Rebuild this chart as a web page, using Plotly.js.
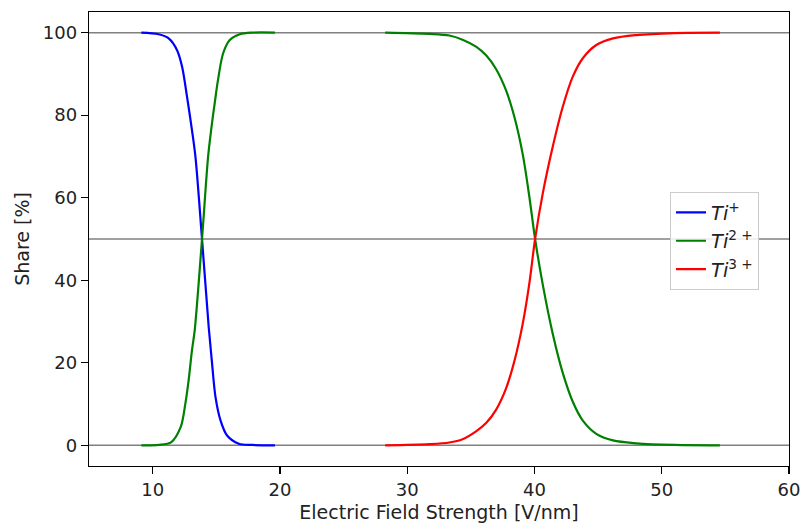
<!DOCTYPE html>
<html>
<head>
<meta charset="utf-8">
<script src="https://cdn.plot.ly/plotly-3.0.1.min.js"></script>
<style>html,body{margin:0;padding:0;background:#fff;}#chart{width:801px;height:523px;}</style>
</head>
<body>
<div id="chart"></div>
<script>
// Ti+ share
const tiPlusX = [9.11, 10.47, 11.26, 11.91, 12.31, 12.70, 13.09, 13.36, 13.88, 14.41, 14.67, 14.94, 15.33, 15.85, 16.77, 17.82, 19.61];
const tiPlusY = [100, 99.6, 98.6, 95.8, 91.8, 84.5, 76.4, 70, 50, 28.5, 19.8, 11.7, 6.1, 2.4, 0.4, 0.1, 0];
// Ti2+ share (two segments separated by a gap)
const ti2PlusX = [9.11, 10.47, 11.47, 12.2, 12.57, 12.83, 13.09, 13.31, 13.88, 14.36, 14.62, 14.88, 15.14, 15.54, 16.06, 16.85, 17.82, 19.61,
                  null,
                  28.27, 31.73, 33.31, 34.35, 35.41, 36.2, 36.98, 37.77, 38.43, 39.08, 39.61, 40.05, 40.65, 41.44, 42.23, 43.02, 43.8, 44.86, 46.17, 48.0, 51.0, 54.57];
const ti2PlusY = [0, 0.1, 0.8, 4.4, 10.1, 15.8, 23, 28, 50, 70, 77, 83, 88.6, 95, 98.2, 99.6, 100, 100,
                  null,
                  100, 99.7, 99.3, 98.3, 96.6, 94.5, 91.2, 86, 79.5, 70.5, 60, 50, 39, 27, 17.5, 10.5, 6, 2.8, 1.2, 0.5, 0.1, 0];
// Ti3+ share
const ti3PlusX = [28.27, 31.73, 33.31, 34.35, 35.41, 36.2, 36.98, 37.77, 38.43, 39.08, 39.61, 40.05, 40.65, 41.44, 42.23, 43.02, 43.8, 44.86, 46.17, 48.0, 51.0, 54.57];
const ti3PlusY = [0, 0.3, 0.7, 1.5, 3.4, 5.4, 8.6, 13.8, 20.5, 29.5, 39.5, 50, 61, 72.4, 82.1, 89.4, 93.8, 97.0, 98.6, 99.4, 99.9, 100];
// reference levels
const refLevels = [0, 50, 100];
const xTicks = [10, 20, 30, 40, 50, 60];
const yTicks = [0, 20, 40, 60, 80, 100];
const seriesNames = ['<i>Ti</i><sup>+</sup>', '<i>Ti</i><sup>2 +</sup>', '<i>Ti</i><sup>3 +</sup>'];

const lineStyle = (c) => ({color: c, width: 2.2, shape: 'spline', smoothing: 0.9});
const traces = [
  {x: tiPlusX, y: tiPlusY, mode: 'lines', name: seriesNames[0], line: lineStyle('#0000ff')},
  {x: ti2PlusX, y: ti2PlusY, mode: 'lines', name: seriesNames[1], connectgaps: false, line: lineStyle('#008000')},
  {x: ti3PlusX, y: ti3PlusY, mode: 'lines', name: seriesNames[2], line: lineStyle('#ff0000')}
];

const shapes = refLevels.map(v => ({
  type: 'line', xref: 'paper', yref: 'y', x0: 0, x1: 1, y0: v, y1: v,
  line: {color: '#808080', width: 1.5}, layer: 'below'
}));

const axisCommon = {
  showgrid: false, zeroline: false, showline: true, mirror: true, automargin: false,
  linecolor: '#000', linewidth: 1.2, ticks: 'outside', ticklen: 7, tickwidth: 1.2, tickcolor: '#000',
  tickfont: {family: 'DejaVu Sans', size: 18, color: '#222'}
};

const layout = {
  width: 801, height: 523,
  margin: {l: 89, r: 12, t: 12, b: 57},
  paper_bgcolor: '#fff', plot_bgcolor: '#fff',
  font: {family: 'DejaVu Sans', color: '#222'},
  xaxis: Object.assign({}, axisCommon, {
    range: [5, 60], tickvals: xTicks, ticktext: xTicks.map(String),
    title: {text: 'Electric Field Strength [V/nm]', font: {family: 'DejaVu Sans', size: 19, color: '#222'}, standoff: 8}
  }),
  yaxis: Object.assign({}, axisCommon, {
    range: [-5, 105], tickvals: yTicks, ticktext: yTicks.map(String),
    title: {text: 'Share [%]', font: {family: 'DejaVu Sans', size: 19, color: '#222'}, standoff: 8}
  }),
  shapes: shapes,
  showlegend: true,
  legend: {
    x: 0.83, y: 0.603, xanchor: 'left', yanchor: 'top',
    bgcolor: 'rgba(255,255,255,0.85)', bordercolor: '#cccccc', borderwidth: 1,
    font: {family: 'DejaVu Sans', size: 19.5, color: '#222'},
    tracegroupgap: 0
  }
};

Plotly.newPlot('chart', traces, layout, {staticPlot: true, displayModeBar: false});
</script>
</body>
</html>
